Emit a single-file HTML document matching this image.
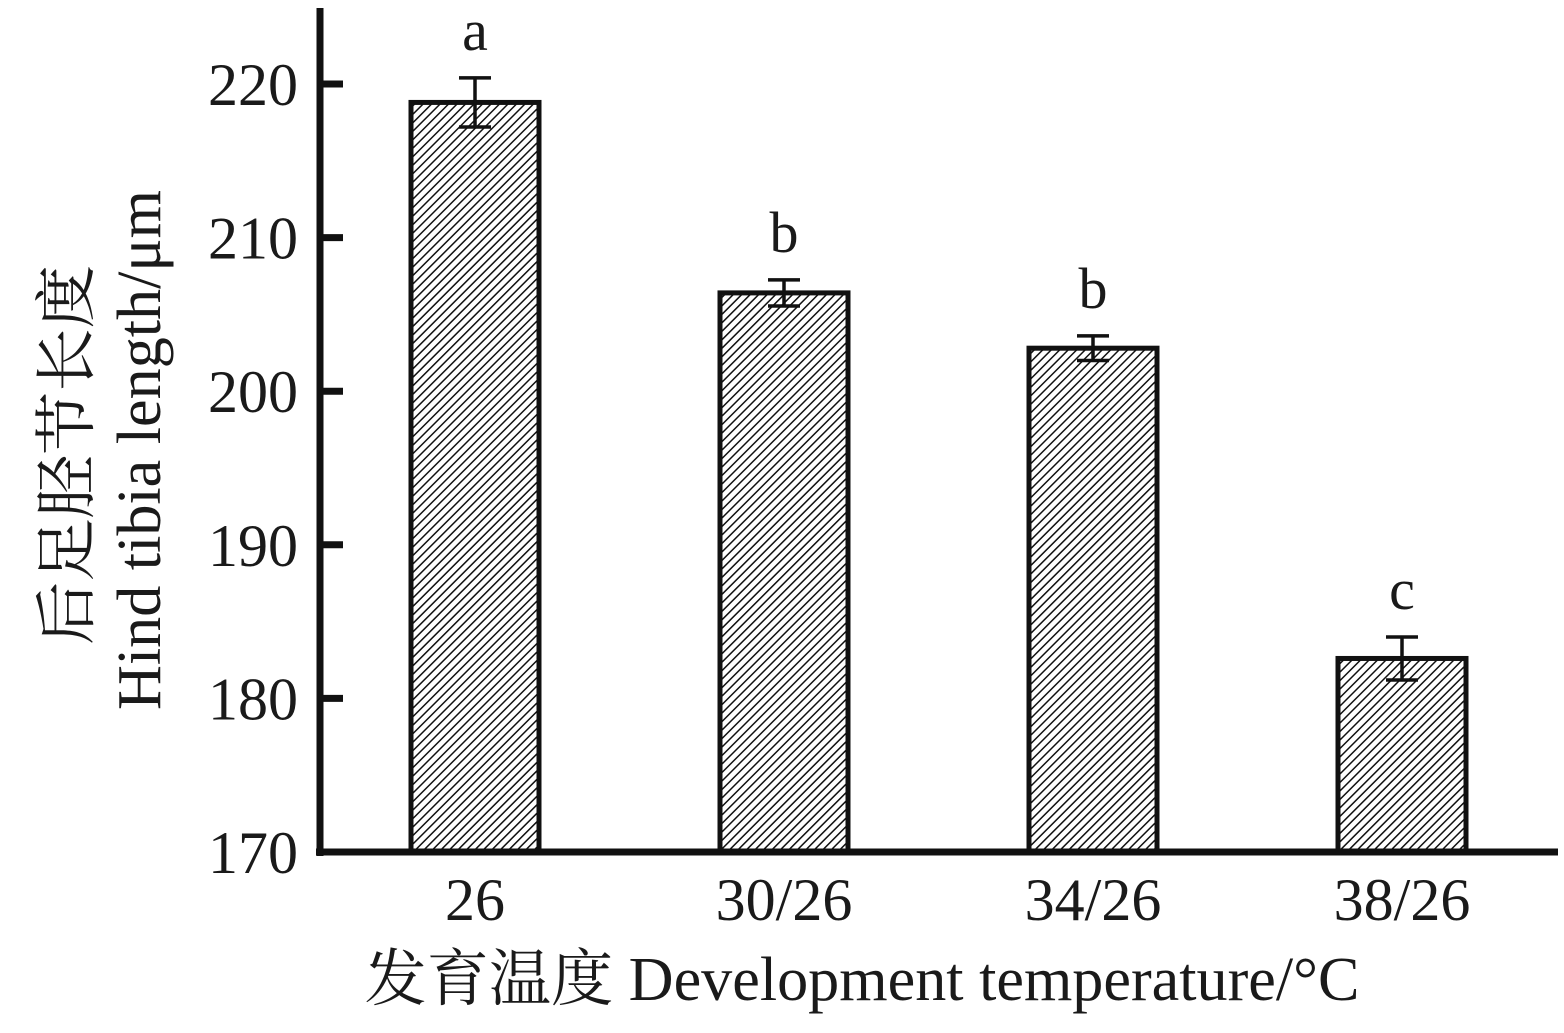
<!DOCTYPE html>
<html><head><meta charset="utf-8"><style>
body{margin:0;background:#fff}
svg text{font-family:"Liberation Serif","Noto Serif CJK SC",serif;fill:#1a1a1a}
</style></head><body>
<svg width="1564" height="1028" viewBox="0 0 1564 1028">
<defs>
<pattern id="hatch" patternUnits="userSpaceOnUse" width="6" height="6" patternTransform="rotate(45)">
<rect width="6" height="6" fill="#fff"/>
<line x1="0" y1="0" x2="0" y2="6" stroke="#111" stroke-width="3"/>
</pattern>
</defs>
<g id="plot"></g>
</svg>
<script>
const categories=["26","30/26","34/26","38/26"];
const values=[218.8,206.4,202.8,182.6];
const errors=[1.6,0.85,0.8,1.4];
const letters=["a","b","b","c"];
const yTicks=[170,180,190,200,210,220];
const NS="http://www.w3.org/2000/svg";
const g=document.getElementById('plot');
const x0=320,yBase=852,yMin=170,pxPer=15.36;
function y(v){return yBase-(v-yMin)*pxPer;}
function xc(i){return 475+i*309;}
function mk(t,a,parent){const e=document.createElementNS(NS,t);for(const k in a)e.setAttribute(k,a[k]);(parent||g).appendChild(e);return e;}
categories.forEach((c,i)=>{
 const cx=xc(i),w=128;
 const r=mk('rect',{x:cx-w/2,y:y(values[i]),width:w,height:yBase-y(values[i]),fill:'url(#hatch)',stroke:'#111','stroke-width':5});
 
 
 const e=mk('path',{d:`M${cx-16},${y(values[i]+errors[i])}H${cx+16}M${cx},${y(values[i]+errors[i])}V${y(values[i]-errors[i])}M${cx-16},${y(values[i]-errors[i])}H${cx+16}`,stroke:'#111','stroke-width':3.5,fill:'none'});
 
 
 const l=mk('text',{x:cx,y:y(values[i]+errors[i])-28,'text-anchor':'middle','font-size':58});
 l.textContent=letters[i];
 
 
 const t=mk('text',{x:cx,y:920,'text-anchor':'middle','font-size':60});
 t.textContent=c;
 
 
});
const ya=mk('line',{x1:x0,y1:8,x2:x0,y2:yBase+4,stroke:'#111','stroke-width':7});


const xa=mk('line',{x1:x0-4,y1:yBase,x2:1558,y2:yBase,stroke:'#111','stroke-width':7});


yTicks.forEach(v=>{
 const tk=mk('line',{x1:x0,y1:y(v),x2:x0+23,y2:y(v),stroke:'#111','stroke-width':7});
 
 
 const t=mk('text',{x:298,y:y(v)+21,'text-anchor':'end','font-size':60});
 t.textContent=v;
 
 
});
const xt=mk('text',{x:862,y:1000,'text-anchor':'middle','font-size':62,textLength:995,lengthAdjust:'spacingAndGlyphs'});
xt.textContent='发育温度 Development temperature/°C';


const yt1=mk('text',{x:0,y:0,'text-anchor':'middle','font-size':62,textLength:380,lengthAdjust:'spacingAndGlyphs',transform:'translate(88,455) rotate(-90)'});
yt1.textContent='后足胫节长度';


const yt2=mk('text',{x:0,y:0,'text-anchor':'middle','font-size':62,textLength:520,lengthAdjust:'spacingAndGlyphs',transform:'translate(160,450) rotate(-90)'});
yt2.textContent='Hind tibia length/μm';


</script>
</body></html>
